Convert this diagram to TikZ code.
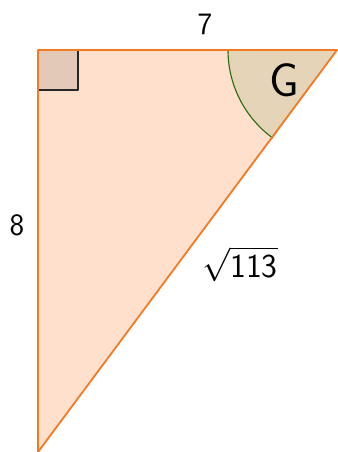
\documentclass[tikz,border=0pt]{standalone}
\usepackage{amsmath,amssymb}
\usepackage{xcolor}
\usetikzlibrary{calc}
\definecolor{triFill}{HTML}{FFE0CC}
\definecolor{triLine}{HTML}{F47A22}
\definecolor{sqFill}{HTML}{E3C9B7}
\definecolor{angFill}{HTML}{E6D4B9}
\definecolor{angLine}{HTML}{2A6A0A}
\newcommand{\biglabel}[2]{\scalebox{#1}{\Huge\sffamily #2}}
\begin{document}
\begin{tikzpicture}[x=1pt,y=-1pt,line join=round,font=\sffamily]
  \useasboundingbox (0,0) rectangle (337,452);
  \coordinate (A) at (38,50);
  \coordinate (B) at (337,50);
  \coordinate (C) at (38,452);
  \coordinate (AR1) at (228,50);
  \fill[triFill] (A) -- (B) -- (C) -- cycle;
  \fill[sqFill] (A) rectangle (78,90);
  \draw[line width=1.3pt,black!85] (78,50) -- (78,90) -- (38,90);
  \fill[angFill] (B) -- (AR1) arc[start angle=180,end angle=126,radius=109] -- cycle;
  \draw[angLine,line width=1.1pt] (AR1) arc[start angle=180,end angle=126,radius=109];
  \draw[triLine,line width=1.8pt] (A) -- (B) -- (C) -- cycle;
  \node (G) at (284,80) {\biglabel{1.9}{G}};
  \node (top) at (205,24) {\biglabel{1.25}{7}};
  \node (left) at (17,225) {\biglabel{1.25}{8}};
  \node (hyp) at (240,264) {\biglabel{1.35}{$\sqrt{\text{\sffamily 113}}$}};
\end{tikzpicture}
\end{document}
